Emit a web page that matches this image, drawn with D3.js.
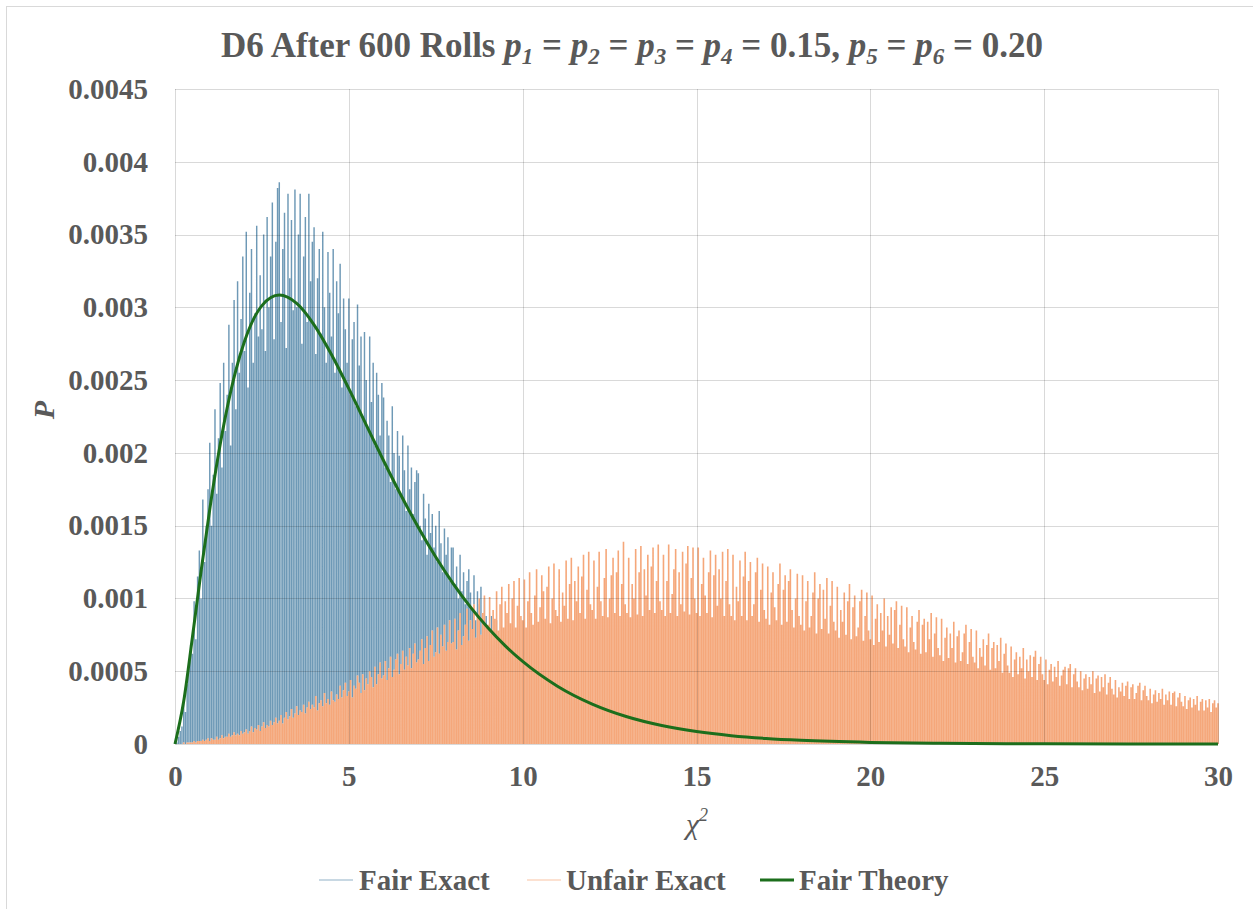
<!DOCTYPE html>
<html><head><meta charset="utf-8">
<script src="https://cdn.jsdelivr.net/npm/d3@7/dist/d3.min.js"></script>
<style>
html,body{margin:0;padding:0;background:#fff;}
svg text{font-family:"Liberation Serif","Times New Roman",serif;}
</style></head>
<body>
<svg id="chart" width="1253" height="909"></svg>
<script>
// ---------------- DATA ----------------
const xTicks = [0, 5, 10, 15, 20, 25, 30];
const yTicks = [0, 0.0005, 0.001, 0.0015, 0.002, 0.0025, 0.003, 0.0035, 0.004, 0.0045];
const seriesNames = ["Fair Exact", "Unfair Exact", "Fair Theory"];

// Exact distributions: chi-square lattice sampled every 0.05, probability in units of 1e-5
const exactStep = 0.05;
const fairExactPer100k = [
  0,1,5,9,12,30,22,41,52,68,
  62,98,72,115,133,100,168,125,150,175,
  207,150,185,230,172,210,248,190,262,215,
  240,288,205,262,305,230,318,255,292,335,
  270,352,245,310,340,262,296,356,280,322,
  285,350,270,362,300,335,372,278,345,382,
  386,290,340,365,272,378,320,360,298,381,
  300,350,378,275,335,362,290,378,318,345,
  355,268,320,340,282,352,300,262,338,310,
  280,340,255,318,296,330,245,306,285,262,
  306,240,278,290,232,302,260,280,225,283,
  250,218,280,235,262,205,255,240,212,248,
  238,190,222,212,180,232,200,175,215,198,
  170,212,188,160,205,175,190,158,180,188,
  186,150,140,172,155,130,165,145,158,135,
  150,125,160,138,118,148,130,142,112,135,
  135,110,122,100,130,105,118,96,112,120,
  104,92,116,85,105,96,108,82,100,88,
  80,72,88,68,78,85,64,75,70,66,
  66,60,70,56,64,58,62,54,60,55,
  54,50,56,47,52,49,51,45,48,46,
  45,42,46,40,43,41,42,38,40,39,
  38,35,37,34,36,33,35,32,33,31,
  31,29,30,28,29,27,28,26,27,25
];
const unfairExactPer100k = [
  0,0,0,0,0,1,0,1,1,1,1,2,1,2,2,2,3,2,3,4,
  2,4,3,3,5,3,4,6,4,5,5,7,5,6,8,6,7,6,9,7,
  8,10,7,9,12,8,11,10,13,9,12,15,11,13,12,16,13,15,18,14,
  16,20,14,18,22,17,19,24,18,21,26,20,23,22,27,21,25,29,24,27,
  25,33,23,28,30,26,35,28,31,27,36,30,29,34,31,40,32,37,42,33,
  36,44,32,40,38,47,42,35,48,37,45,41,50,46,39,53,41,48,56,45,
  47,57,44,52,60,46,51,58,62,48,55,64,51,60,54,66,52,62,69,56,
  58,64,72,55,66,74,57,68,78,60,63,80,62,75,67,82,64,70,85,69,
  70,86,65,78,90,68,74,82,93,71,85,79,96,73,88,100,75,90,102,80,
  82,101,76,92,86,105,78,96,108,80,98,90,110,83,100,112,80,95,114,88,
  85,113,80,98,118,90,82,102,120,84,94,116,105,86,108,122,83,100,124,92,
  88,120,84,104,95,126,86,110,128,85,112,98,122,90,115,130,86,106,132,96,
  92,126,86,108,132,98,88,114,134,87,100,116,128,90,118,133,88,110,139,96,
  90,128,87,110,100,134,89,118,136,88,120,102,130,92,122,135,90,112,137,98,
  92,130,88,112,137,90,103,120,134,88,118,96,132,91,124,136,89,114,135,100,
  90,135,88,110,128,102,90,118,133,87,116,130,95,120,100,132,88,112,134,96,
  88,130,85,108,98,126,88,115,132,85,112,125,88,96,118,128,84,106,124,92,
  86,122,82,104,118,94,85,110,124,82,106,116,84,112,120,92,80,100,117,88,
  82,116,78,98,112,80,88,104,118,76,100,110,79,106,86,114,76,95,112,84,
  78,108,73,92,84,104,75,98,110,72,94,102,74,80,98,106,71,88,104,78,
  72,102,68,86,96,70,90,78,100,67,88,75,94,69,92,98,66,82,95,72,
  67,94,63,80,88,70,65,84,92,62,82,86,63,84,72,90,60,76,87,66,
  61,86,57,73,80,59,76,66,84,56,74,78,57,63,76,82,55,70,79,60,
  56,78,52,66,60,72,54,68,76,51,66,70,52,68,57,73,49,62,69,54,
  49,67,46,58,63,48,60,52,66,45,58,50,61,46,60,64,44,55,60,48,
  44,58,41,51,55,43,53,46,57,40,47,51,53,41,52,55,39,48,52,43,
  39,50,37,45,48,38,46,41,50,35,45,47,36,46,39,48,34,42,46,38,
  34,44,32,39,36,42,33,40,43,31,39,41,31,35,40,42,30,37,40,33,
  30,38,28,34,37,29,35,31,38,27,34,30,36,27,35,36,26,32,35,29,
  26,33,24,30,32,25,31,27,33,23,29,31,23,30,25,31,22,28,30,25,
  28
];
// Fair theory curve
const theoryX = [0,0.25,0.5,0.75,1,1.25,1.5,1.75,2,2.5,3,3.5,4,4.5,5,5.5,6,6.5,7,7.5,8,8.5,9,9.5,10,11,12,13,14,15,16,17,18,20,22,25,30];
const theoryP = [0,0.000293,0.000732,0.001187,0.001613,0.00199,0.002308,0.002567,0.002767,0.003012,0.003084,0.003027,0.00288,0.002676,0.002441,0.002193,0.001946,0.001709,0.001488,0.001285,0.001102,0.00094,0.000798,0.000674,0.000567,0.000397,0.000274,0.000187,0.000127,0.0000855,0.0000571,0.0000379,0.0000251,0.0000108,0.0000046,0.0000012,0];

// ---------------- CHART ----------------
const svg = d3.select("#chart");
const textColor = "#595959";
const gridColor = "#d9d9d9";
const blue = "#2a6893", orange = "#f28a4e", green = "#1c6e1c";
const FONT = '"Liberation Serif","Times New Roman",serif';

const x = d3.scaleLinear().domain([0, 30]).range([175, 1218]);
const y = d3.scaleLinear().domain([0, 0.0045]).range([744, 89]);

// outer border (left & top visible)
svg.append("line").attr("x1",6.5).attr("x2",6.5).attr("y1",6).attr("y2",909).attr("stroke",gridColor);
svg.append("line").attr("x1",6).attr("x2",1253).attr("y1",6.5).attr("y2",6.5).attr("stroke",gridColor);

// spikes
function spikePath(values) {
  const p = d3.path();
  values.forEach((v, i) => {
    if (v <= 0) return;
    const cx = i * exactStep, cv = v * 1e-5;
    p.moveTo(x(cx), y(0));
    p.lineTo(x(cx), y(cv));
  });
  return p.toString();
}
const fairD = spikePath(fairExactPer100k);
const unfairD = spikePath(unfairExactPer100k);
svg.append("path").attr("d", fairD).attr("fill", "none").attr("stroke", blue)
  .attr("stroke-width", 1.45).attr("stroke-opacity", 0.68);
// unfair drawn over fair (knock out what lies beneath)
svg.append("path").attr("d", unfairD).attr("fill", "none").attr("stroke", "#fff")
  .attr("stroke-width", 1.7);
svg.append("path").attr("d", unfairD).attr("fill", "none").attr("stroke", orange)
  .attr("stroke-width", 1.6).attr("stroke-opacity", 0.75);

// gridlines (semi-transparent, over the spikes)
const grid = svg.append("g");
grid.selectAll("line.h").data(yTicks).join("line").attr("class","h")
  .attr("x1", x(0)).attr("x2", x(30))
  .attr("y1", d => Math.round(y(d)) + 0.5).attr("y2", d => Math.round(y(d)) + 0.5)
  .attr("stroke", "#000").attr("stroke-opacity", 0.15).attr("stroke-width", 1);
grid.selectAll("line.v").data(xTicks).join("line").attr("class","v")
  .attr("x1", d => Math.round(x(d)) + 0.5).attr("x2", d => Math.round(x(d)) + 0.5)
  .attr("y1", y(0.0045)).attr("y2", y(0))
  .attr("stroke", "#000").attr("stroke-opacity", 0.15).attr("stroke-width", 1);

// theory line
const line = d3.line().x(d => x(d[0])).y(d => y(d[1])).curve(d3.curveMonotoneX);
svg.append("path").datum(theoryX.map((v, i) => [v, theoryP[i]]))
  .attr("d", line).attr("fill", "none").attr("stroke", green).attr("stroke-width", 3);

// axes
const fmtY = d => d === 0 ? "0" : String(+d.toFixed(4));
const xAxis = svg.append("g").attr("transform", `translate(0,${y(0)})`)
  .call(d3.axisBottom(x).tickValues(xTicks).tickSize(0).tickPadding(21).tickFormat(d3.format("d")));
const yAxis = svg.append("g").attr("transform", `translate(${x(0)},0)`)
  .call(d3.axisLeft(y).tickValues(yTicks).tickSize(0).tickPadding(27).tickFormat(fmtY));
[xAxis, yAxis].forEach(a => {
  a.select(".domain").remove();
  a.selectAll("text").attr("fill", textColor).style("font-size", "29px").style("font-weight", "bold")
    .style("font-family", FONT);
});

// title
const title = svg.append("text").attr("x", 632).attr("y", 57).attr("text-anchor", "middle")
  .attr("fill", textColor).style("font-size", "35px").style("font-weight", "bold");
title.append("tspan").text("D6 After 600 Rolls ");
let pendingDy = 0;
function txt(s) { title.append("tspan").attr("dy", pendingDy).text(s); pendingDy = 0; }
function pSub(n) {
  title.append("tspan").attr("dy", pendingDy).attr("font-style", "italic").text("p");
  title.append("tspan").attr("font-style", "italic").attr("font-size", "23px").attr("dy", 7).text(n);
  pendingDy = -7;
}
pSub("1"); txt(" = ");
pSub("2"); txt(" = ");
pSub("3"); txt(" = ");
pSub("4"); txt(" = 0.15, ");
pSub("5"); txt(" = ");
pSub("6"); txt(" = 0.20");

// axis titles
const xt = svg.append("text").attr("x", 697).attr("y", 834).attr("text-anchor", "middle")
  .attr("fill", textColor).style("font-size", "30px").style("font-style", "italic");
xt.append("tspan").text("χ");
xt.append("tspan").attr("font-size", "18px").attr("dy", -13).text("2");
svg.append("text").attr("transform", "translate(54,410) rotate(-90)").attr("text-anchor", "middle")
  .attr("fill", textColor).style("font-size", "30px").style("font-style", "italic").style("font-weight","bold").text("P");

// legend
const legendItems = [
  {name: seriesNames[0], color: blue, op: 0.35, w: 1.5, lx: 319, tx: 359},
  {name: seriesNames[1], color: orange, op: 0.35, w: 1.5, lx: 527, tx: 566},
  {name: seriesNames[2], color: green, op: 1, w: 3, lx: 760, tx: 799}
];
const lg = svg.append("g");
legendItems.forEach(it => {
  lg.append("line").attr("x1", it.lx).attr("x2", it.lx + 34).attr("y1", 880).attr("y2", 880)
    .attr("stroke", it.color).attr("stroke-opacity", it.op).attr("stroke-width", it.w);
  lg.append("text").attr("x", it.tx).attr("y", 890).attr("fill", textColor)
    .style("font-size", "29px").style("font-weight", "bold").text(it.name);
});
</script>
</body></html>
